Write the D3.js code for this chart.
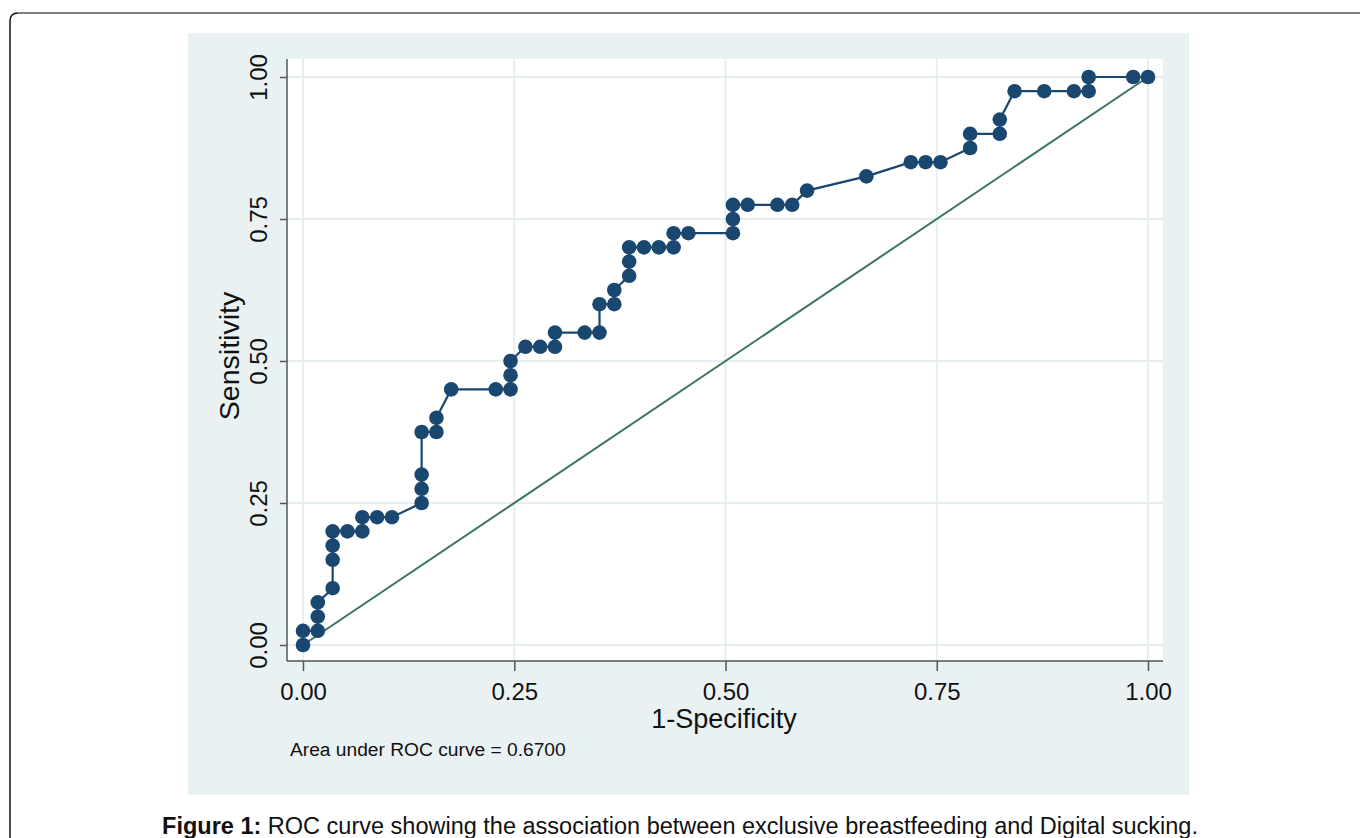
<!DOCTYPE html>
<html>
<head>
<meta charset="utf-8">
<script src="https://cdn.jsdelivr.net/npm/d3@7"></script>
<style>
  body { margin: 0; background: #fff; }
  svg { display: block; font-family: "Liberation Sans", Arial, sans-serif; }
</style>
</head>
<body>
<svg id="chart" width="1360" height="838"></svg>
<script>
// ROC points (1-specificity, sensitivity)
var fpr = [0, 0, 0.0175, 0.0175, 0.0175, 0.0351, 0.0351, 0.0351, 0.0351, 0.0526,
  0.0702, 0.0702, 0.0877, 0.1053, 0.1404, 0.1404, 0.1404, 0.1404, 0.1579, 0.1579,
  0.1754, 0.2281, 0.2456, 0.2456, 0.2456, 0.2632, 0.2807, 0.2982, 0.2982, 0.3333,
  0.3509, 0.3509, 0.3684, 0.3684, 0.386, 0.386, 0.386, 0.4035, 0.4211, 0.4386,
  0.4386, 0.4561, 0.5088, 0.5088, 0.5088, 0.5263, 0.5614, 0.5789, 0.5965, 0.6667,
  0.7193, 0.7368, 0.7544, 0.7895, 0.7895, 0.8246, 0.8246, 0.8421, 0.8772, 0.9123,
  0.9298, 0.9298, 0.9825, 1];
var sens = [0, 0.025, 0.025, 0.05, 0.075, 0.1, 0.15, 0.175, 0.2, 0.2,
  0.2, 0.225, 0.225, 0.225, 0.25, 0.275, 0.3, 0.375, 0.375, 0.4,
  0.45, 0.45, 0.45, 0.475, 0.5, 0.525, 0.525, 0.525, 0.55, 0.55,
  0.55, 0.6, 0.6, 0.625, 0.65, 0.675, 0.7, 0.7, 0.7, 0.7,
  0.725, 0.725, 0.725, 0.75, 0.775, 0.775, 0.775, 0.775, 0.8, 0.825,
  0.85, 0.85, 0.85, 0.875, 0.9, 0.9, 0.925, 0.975, 0.975, 0.975,
  0.975, 1, 1, 1];
var ticks = [0, 0.25, 0.5, 0.75, 1];
var tickLabels = ["0.00", "0.25", "0.50", "0.75", "1.00"];
var refLine = [0, 1];
var aucText = "Area under ROC curve = 0.6700";

var svg = d3.select("#chart");

// outer frame of the page
svg.append("path")
    .attr("d", "M10,838 L10,21 Q10,13 18,13 L1360,13")
    .attr("fill", "none")
    .attr("stroke", "#111")
    .attr("stroke-width", 1.5);
svg.append("line")
    .attr("x1", 18).attr("x2", 1360).attr("y1", 13).attr("y2", 13)
    .attr("stroke", "#808080").attr("stroke-width", 2);

// graph region
svg.append("rect")
    .attr("x", 188).attr("y", 33).attr("width", 1001).attr("height", 762)
    .attr("fill", "#eaf1f3");
// plot region
svg.append("rect")
    .attr("x", 287).attr("y", 59).attr("width", 876).attr("height", 602)
    .attr("fill", "#ffffff");

var x = d3.scaleLinear().domain([0, 1]).range([303, 1148]);
var y = d3.scaleLinear().domain([0, 1]).range([645, 77]);

var grid = svg.append("g");
grid.selectAll(".gx").data(ticks).enter().append("line")
    .attr("x1", function(d) { return x(d); }).attr("x2", function(d) { return x(d); })
    .attr("y1", 59).attr("y2", 661)
    .attr("stroke", "#e7eef1").attr("stroke-width", 2);
grid.selectAll(".gy").data(ticks).enter().append("line")
    .attr("x1", 287).attr("x2", 1163)
    .attr("y1", function(d) { return y(d); }).attr("y2", function(d) { return y(d); })
    .attr("stroke", "#e7eef1").attr("stroke-width", 2);

// axes
var xAxis = d3.axisBottom(x).tickValues(ticks).tickSize(10)
    .tickFormat(function(d, i) { return tickLabels[i]; });
var gx = svg.append("g").attr("transform", "translate(0,661)").call(xAxis);
gx.select(".domain").attr("d", "M287,0H1163").attr("stroke", "#555").attr("stroke-width", 1.5);
gx.selectAll(".tick line").attr("stroke", "#555").attr("stroke-width", 1.5);
gx.selectAll(".tick text")
    .attr("y", 39).attr("dy", 0)
    .attr("fill", "#111").style("font-size", "24px").style("font-family", "Liberation Sans, Arial, sans-serif");

var yAxis = d3.axisLeft(y).tickValues(ticks).tickSize(7)
    .tickFormat(function(d, i) { return tickLabels[i]; });
var gy = svg.append("g").attr("transform", "translate(287,0)").call(yAxis);
gy.select(".domain").attr("d", "M0,59V661").attr("stroke", "#555").attr("stroke-width", 1.5);
gy.selectAll(".tick line").attr("stroke", "#555").attr("stroke-width", 1.5);
gy.selectAll(".tick text")
    .attr("x", 0).attr("dy", 0)
    .attr("transform", "translate(-20,0) rotate(-90)")
    .attr("text-anchor", "middle")
    .attr("fill", "#111").style("font-size", "24px").style("font-family", "Liberation Sans, Arial, sans-serif");

// axis titles
svg.append("text")
    .attr("x", 724).attr("y", 728)
    .attr("text-anchor", "middle")
    .style("font-size", "27px").attr("fill", "#111")
    .text("1-Specificity");
svg.append("text")
    .attr("transform", "translate(239,356) rotate(-90)")
    .attr("text-anchor", "middle")
    .style("font-size", "28.5px").attr("fill", "#111")
    .text("Sensitivity");

// reference diagonal
svg.append("line")
    .attr("x1", x(refLine[0])).attr("y1", y(refLine[0]))
    .attr("x2", x(refLine[1])).attr("y2", y(refLine[1]))
    .attr("stroke", "#3a7659").attr("stroke-width", 2);

// ROC curve
var pts = fpr.map(function(d, i) { return {fpr: d, sens: sens[i]}; });
var line = d3.line()
    .x(function(d) { return x(d.fpr); })
    .y(function(d) { return y(d.sens); });
svg.append("path")
    .datum(pts)
    .attr("d", line)
    .attr("fill", "none")
    .attr("stroke", "#1a476f")
    .attr("stroke-width", 2.2);
svg.selectAll(".pt").data(pts).enter().append("circle")
    .attr("class", "pt")
    .attr("cx", function(d) { return x(d.fpr); })
    .attr("cy", function(d) { return y(d.sens); })
    .attr("r", 7.3)
    .attr("fill", "#1a476f");

// note
svg.append("text")
    .attr("x", 290).attr("y", 756)
    .style("font-size", "19.2px").attr("fill", "#111")
    .text(aucText);

// caption
var cap = svg.append("text")
    .attr("x", 680).attr("y", 834)
    .attr("text-anchor", "middle")
    .style("font-size", "23.5px").attr("fill", "#111");
cap.append("tspan").style("font-weight", "bold").text("Figure 1:");
cap.append("tspan").text(" ROC curve showing the association between exclusive breastfeeding and Digital sucking.");
</script>
</body>
</html>
